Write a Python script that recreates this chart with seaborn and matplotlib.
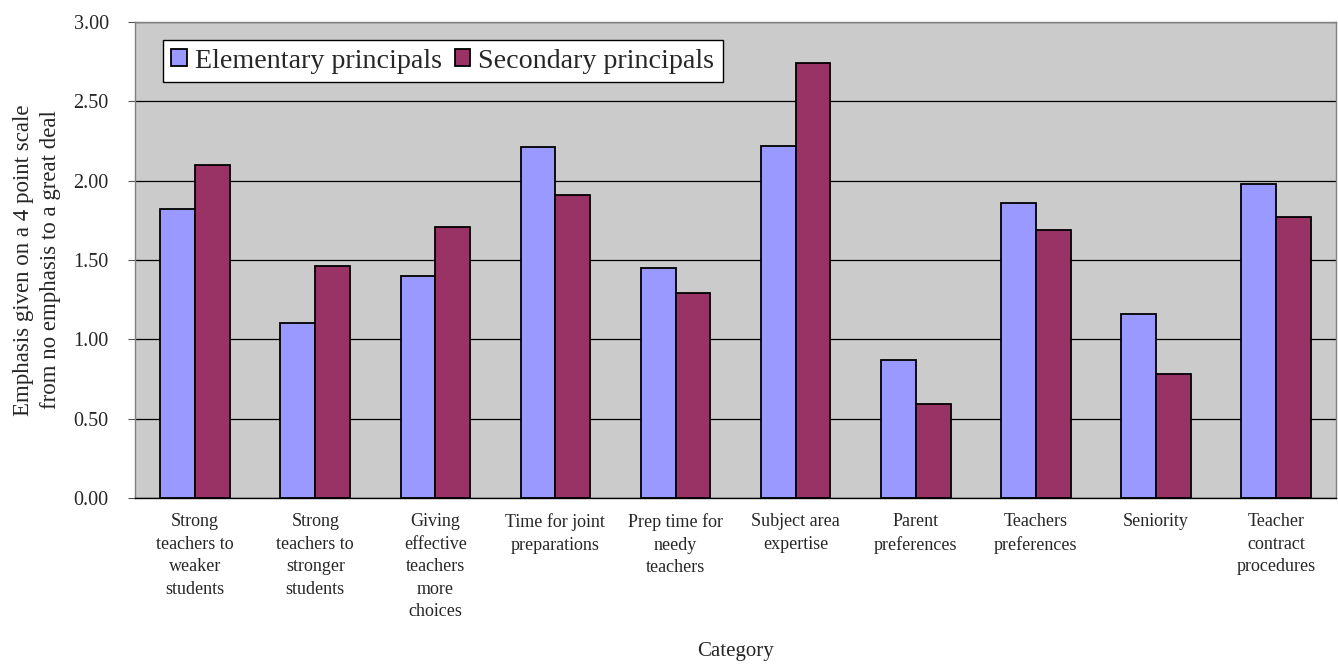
import matplotlib
matplotlib.use("Agg")
import matplotlib.pyplot as plt
import seaborn as sns
import pandas as pd
from matplotlib.patches import Patch

categories = [
    "Strong\nteachers to\nweaker\nstudents",
    "Strong\nteachers to\nstronger\nstudents",
    "Giving\neffective\nteachers\nmore\nchoices",
    "Time for joint\npreparations",
    "Prep time for\nneedy\nteachers",
    "Subject area\nexpertise",
    "Parent\npreferences",
    "Teachers\npreferences",
    "Seniority",
    "Teacher\ncontract\nprocedures",
]
elementary = [1.82, 1.10, 1.40, 2.21, 1.45, 2.22, 0.87, 1.86, 1.16, 1.98]
secondary = [2.10, 1.46, 1.71, 1.91, 1.29, 2.74, 0.59, 1.69, 0.78, 1.77]
series_names = ["Elementary principals", "Secondary principals"]
colors = ["#9999FF", "#993366"]
y_ticks = [0.0, 0.5, 1.0, 1.5, 2.0, 2.5, 3.0]

# long form table for seaborn
df = pd.DataFrame({
    "Category": categories * 2,
    "Group": [series_names[0]] * len(categories) + [series_names[1]] * len(categories),
    "Value": elementary + secondary,
})

sns.set_style("white")
plt.rcParams["font.family"] = ["Liberation Serif", "DejaVu Serif"]

fig, ax = plt.subplots(figsize=(13.38, 6.68), dpi=100)
fig.subplots_adjust(left=0.101, right=0.9985, top=0.967, bottom=0.2545)

sns.barplot(data=df, x="Category", y="Value", hue="Group", palette=colors,
            width=0.58, edgecolor="black", linewidth=1.3, ax=ax, legend=False,
            saturation=1)

ax.set_facecolor("#CBCBCB")
ax.set_ylim(0, 3)
ax.set_xlim(-0.5, len(categories) - 0.5)
ax.set_yticks(y_ticks)
ax.set_yticklabels(["%.2f" % t for t in y_ticks], fontsize=14.5)
ax.yaxis.grid(True, color="black", linewidth=0.9)
ax.set_axisbelow(True)

# category boundaries get the tick marks, labels sit in the middle
ax.set_xticks(range(len(categories)))
ax.set_xticklabels(categories, fontsize=13, linespacing=1.42)
ax.tick_params(axis="x", which="major", length=0, pad=11)
ax.set_xticks([i - 0.5 for i in range(len(categories) + 1)], minor=True)
ax.tick_params(axis="x", which="minor", length=5, direction="out", color="#555555")
ax.tick_params(axis="y", length=5, direction="out", color="#555555", left=True, pad=14)

for s in ax.spines.values():
    s.set_color("#808080")
    s.set_linewidth(1.0)
ax.spines["bottom"].set_color("black")

ax.set_xlabel("Category", fontsize=15, labelpad=16)
ax.set_ylabel("Emphasis given on a 4 point scale\nfrom no emphasis to a great deal",
              fontsize=16.5, labelpad=9, linespacing=1.35)

handles = [Patch(facecolor=c, edgecolor="black", linewidth=1.3) for c in colors]
leg = ax.legend(handles, series_names, ncol=2, loc="upper left",
                bbox_to_anchor=(0.023, 0.962), fontsize=20.2, frameon=True,
                fancybox=False, handlelength=0.55, handleheight=0.55,
                handletextpad=0.3, columnspacing=0.45, borderpad=0.3,
                borderaxespad=0)
leg.get_frame().set_edgecolor("black")
leg.get_frame().set_linewidth(1.0)
leg.get_frame().set_facecolor("white")
leg.get_frame().set_alpha(1)

plt.savefig("out.png", dpi=100)
